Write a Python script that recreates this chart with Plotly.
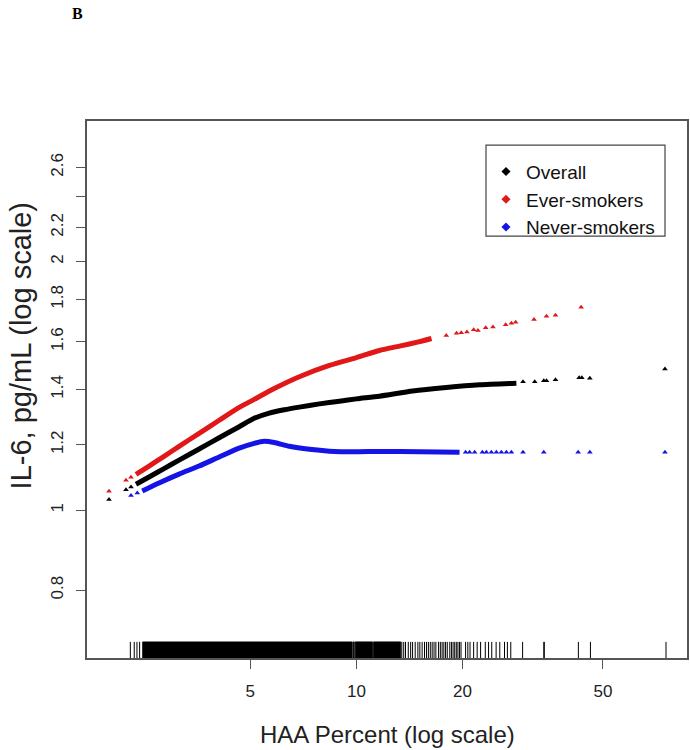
import plotly.graph_objects as go

# ---------------- data ----------------
# Ever-smokers
red_dense_x = [2.371, 2.582, 2.848, 3.142, 3.581, 4.082, 4.652, 5.131, 5.848, 6.889, 8.381, 10.0, 11.62, 13.25, 15.10, 16.33]
red_dense_y = [1.105, 1.131, 1.162, 1.195, 1.239, 1.285, 1.332, 1.362, 1.404, 1.451, 1.497, 1.530, 1.561, 1.580, 1.600, 1.614]
red_sparse_x = [1.988, 2.221, 2.295, 17.98, 19.23, 19.83, 20.58, 21.50, 22.11, 23.26, 24.39, 26.50, 27.51, 28.29, 31.89, 34.60, 36.69, 43.38]
red_sparse_y = [1.054, 1.087, 1.096, 1.628, 1.638, 1.640, 1.644, 1.654, 1.650, 1.663, 1.666, 1.677, 1.684, 1.689, 1.702, 1.717, 1.722, 1.761]

# Overall
blk_dense_x = [2.371, 2.582, 2.848, 3.142, 3.581, 4.082, 4.652, 5.131, 5.66, 6.245, 6.889, 7.852, 8.948, 10.0, 11.62, 14.43, 17.98, 22.36, 28.42]
blk_dense_y = [1.075, 1.097, 1.123, 1.150, 1.186, 1.224, 1.262, 1.292, 1.311, 1.323, 1.333, 1.345, 1.355, 1.364, 1.374, 1.394, 1.408, 1.419, 1.425]
blk_sparse_x = [1.988, 2.221, 2.295, 29.68, 32.04, 33.99, 34.60, 36.69, 42.82, 43.58, 45.92, 74.99]
blk_sparse_y = [1.030, 1.059, 1.067, 1.431, 1.431, 1.435, 1.435, 1.439, 1.447, 1.447, 1.445, 1.482]

# Never-smokers
blu_dense_x = [2.47, 2.756, 3.142, 3.581, 4.082, 4.652, 5.131, 5.479, 5.848, 6.453, 7.356, 8.381, 10.0, 11.62, 15.10, 19.61]
blu_dense_y = [1.055, 1.079, 1.106, 1.131, 1.160, 1.189, 1.205, 1.212, 1.208, 1.195, 1.185, 1.179, 1.177, 1.178, 1.177, 1.175]
blu_sparse_x = [2.295, 2.391, 20.40, 20.94, 21.64, 22.76, 23.36, 24.14, 24.94, 25.77, 26.62, 27.51, 29.68, 33.99, 42.54, 45.92, 74.99]
blu_sparse_y = [1.042, 1.049, 1.175, 1.175, 1.175, 1.175, 1.175, 1.175, 1.175, 1.175, 1.175, 1.175, 1.175, 1.175, 1.175, 1.175, 1.175]

# rug of HAA values
rug_x = [2.285, 2.344, 2.386, 2.428,
         13.45, 13.62, 13.78, 14.03, 14.25, 14.43, 14.68, 14.94, 15.13, 15.36, 15.6, 15.8, 16.0, 16.2,
         16.4, 16.6, 16.8, 17.1, 17.3, 17.5, 17.7, 17.9, 18.1, 18.4, 18.6, 18.8, 19.0, 19.2, 19.4, 19.6, 19.8,
         20.4, 20.7, 21.0, 21.5, 22.0, 22.5, 23.2, 23.7, 24.2, 24.9, 25.5, 26.3, 26.8, 27.4,
         29.6, 34.0, 34.1, 42.6, 46.1, 75.5]
rug_bands = [(2.476, 9.73), (9.79, 9.86), (9.92, 11.11), (11.18, 13.35)]

y_ticks = [0.8, 1.0, 1.2, 1.4, 1.6, 1.8, 2.0, 2.2, 2.4, 2.6]
y_tick_text = ["0.8", "1", "1.2", "1.4", "1.6", "1.8", "2", "2.2", "", "2.6"]
x_ticks = [5, 10, 20, 50]
x_tick_text = ["5", "10", "20", "50"]

series = [
    ("Overall", "#000000", blk_dense_x, blk_dense_y, blk_sparse_x, blk_sparse_y),
    ("Ever-smokers", "#E01818", red_dense_x, red_dense_y, red_sparse_x, red_sparse_y),
    ("Never-smokers", "#1414E6", blu_dense_x, blu_dense_y, blu_sparse_x, blu_sparse_y),
]

FONT = "Liberation Sans, Arial, sans-serif"
fig = go.Figure()

for name, col, dx, dy, sx, sy in series:
    fig.add_trace(go.Scatter(x=dx, y=dy, mode="lines", line=dict(color=col, width=5, shape="spline", smoothing=0.6),
                             showlegend=False, hoverinfo="skip"))
    fig.add_trace(go.Scatter(x=sx, y=sy, mode="markers",
                             marker=dict(symbol="triangle-up", size=5, color=col),
                             showlegend=False, hoverinfo="skip"))

# legend-only entries
for name, col, *_ in series:
    fig.add_trace(go.Scatter(x=[None], y=[None], mode="markers", name=name,
                             marker=dict(symbol="diamond", size=7, color=col)))

# rug
rx, ry = [], []
for v in rug_x:
    rx += [v, v, None]
    ry += [0, 0.03, None]
fig.add_trace(go.Scatter(x=rx, y=ry, mode="lines", line=dict(color="black", width=1),
                         yaxis="y2", showlegend=False, hoverinfo="skip"))
for a, b in rug_bands:
    fig.add_trace(go.Scatter(x=[a, b, b, a, a], y=[0, 0, 0.03, 0.03, 0], mode="lines",
                             fill="toself", fillcolor="black", line=dict(color="black", width=0.8),
                             yaxis="y2", showlegend=False, hoverinfo="skip"))

axis_col = "#555555"
fig.update_layout(
    width=690, height=750,
    margin=dict(l=87, r=3, t=121, b=92, autoexpand=False),
    paper_bgcolor="white", plot_bgcolor="white",
    font=dict(family=FONT, color="#222222"),
    xaxis=dict(type="log", range=[0.236, 1.9375], tickvals=x_ticks, ticktext=x_tick_text,
               ticks="outside", ticklen=9, tickwidth=1.2, tickcolor=axis_col,
               showline=True, mirror=True, linecolor=axis_col, linewidth=1.5,
               showgrid=False, zeroline=False, tickfont=dict(size=17, color="#222222"),
               ticklabelstandoff=8),
    yaxis=dict(type="log", range=[-0.1789, 0.4712], tickvals=y_ticks, ticktext=y_tick_text,
               ticks="outside", ticklen=9, tickwidth=1.2, tickcolor=axis_col,
               showline=True, mirror=True, linecolor=axis_col, linewidth=1.5,
               showgrid=False, zeroline=False, tickangle=-90,
               tickfont=dict(size=17, color="#222222"), ticklabelstandoff=6),
    yaxis2=dict(overlaying="y", range=[0, 1], visible=False, fixedrange=True),
    legend=dict(x=0.665, y=0.941, xanchor="left", yanchor="top",
                bgcolor="rgba(0,0,0,0)", borderwidth=0,
                font=dict(family=FONT, size=19, color="#111111"),
                itemwidth=30, tracegroupgap=0),
    shapes=[dict(type="rect", xref="paper", yref="paper",
                 x0=(486 - 87) / 600, x1=(665 - 87) / 600,
                 y0=(658 - 237) / 536, y1=(658 - 146) / 536,
                 line=dict(color="#444444", width=1.2), fillcolor="rgba(0,0,0,0)")],
    annotations=[
        dict(text="HAA Percent (log scale)", xref="paper", yref="paper",
             x=0.5, y=0.0, yshift=-76, xanchor="center", yanchor="middle",
             showarrow=False, font=dict(family=FONT, size=24, color="#222222")),
        dict(text="IL-6, pg/mL (log scale)", xref="paper", yref="paper",
             x=0, xshift=-66, y=(658 - 347) / 536, xanchor="center", yanchor="middle", textangle=-90,
             showarrow=False, font=dict(family=FONT, size=29, color="#222222")),
        dict(text="<b>B</b>", xref="paper", yref="paper",
             x=0, xshift=-10, y=1, yshift=108, xanchor="center", yanchor="middle",
             showarrow=False, font=dict(family="Liberation Serif, Times New Roman, serif", size=16, color="#000000")),
    ],
)

fig.write_html("out.html", config={"displayModeBar": False},
               post_script="document.body.style.margin='0';document.body.style.overflow='hidden';")
